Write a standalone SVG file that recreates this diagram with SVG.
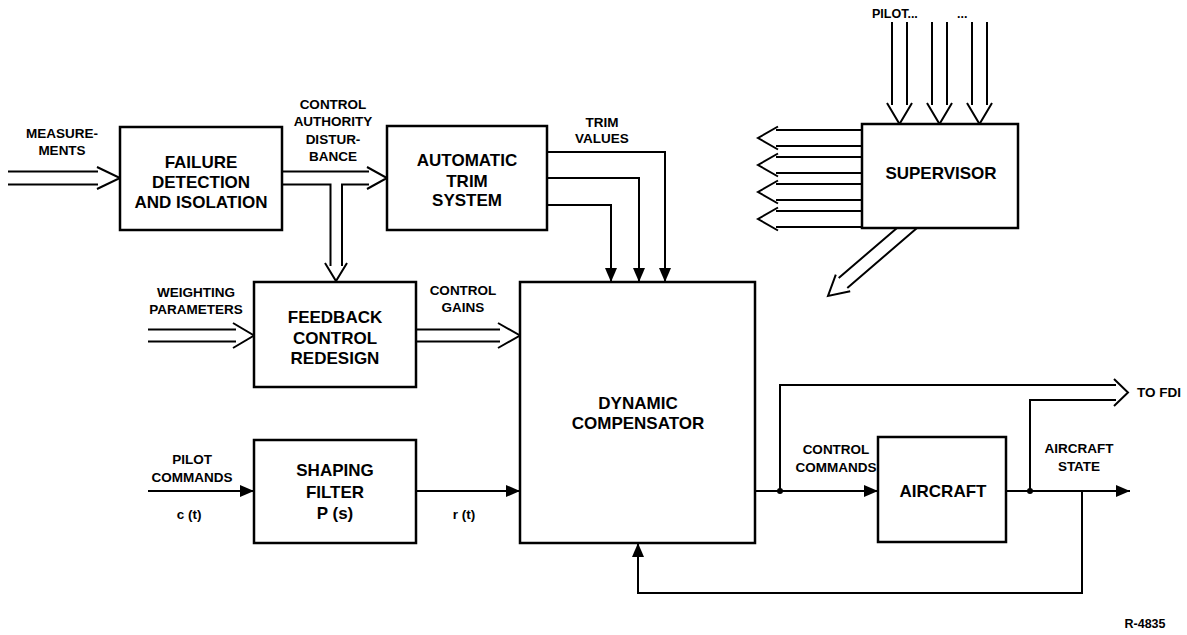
<svg xmlns="http://www.w3.org/2000/svg" width="1187" height="635" viewBox="0 0 1187 635">
<style>
.bx{fill:#fff;stroke:#000;stroke-width:2.5}
.ln{fill:none;stroke:#000;stroke-width:2}
.t{font-family:"Liberation Sans",Arial,sans-serif;font-weight:bold;font-size:17px;text-anchor:middle;fill:#000}
.s{font-family:"Liberation Sans",Arial,sans-serif;font-weight:bold;font-size:13.5px;text-anchor:middle;fill:#000}
</style>
<defs>
<marker id="ah" viewBox="0 0 14 12" markerWidth="14" markerHeight="12" markerUnits="userSpaceOnUse" refX="14" refY="6" orient="auto">
<path d="M0,0 L14,6 L0,12 z" fill="#000"/>
</marker>
</defs>
<rect width="1187" height="635" fill="#fff"/>

<g id="connectors">
<!-- measurements -->
<path class="ln" d="M8,171.5 H98 M8,184.5 H98 M97,167 L120,178 L97,189"/>
<!-- FDI to trim and feedback -->
<path class="ln" d="M282,171.5 H369 M282,184.5 H330.5 V266 M342,266 V184.5 H369 M367,167 L387,178 L367,189 M325,263 L336,281 L347,263"/>
<!-- weighting parameters -->
<path class="ln" d="M148,329.5 H236 M148,341.5 H236 M233,323 L254,335.5 L233,348"/>
<!-- control gains -->
<path class="ln" d="M416,329.5 H500 M416,341.5 H500 M498,323 L520,335.5 L498,348"/>
<!-- trim values -->
<path class="ln" d="M547,152 H665 V282" marker-end="url(#ah)"/>
<path class="ln" d="M547,178 H639 V282" marker-end="url(#ah)"/>
<path class="ln" d="M547,205 H611 V282" marker-end="url(#ah)"/>
<!-- pilot commands / r(t) -->
<path class="ln" d="M148,491 H254" marker-end="url(#ah)"/>
<path class="ln" d="M416,491 H520" marker-end="url(#ah)"/>
<!-- control commands -->
<path class="ln" d="M755,491 H878" marker-end="url(#ah)"/>
<!-- aircraft state -->
<path class="ln" d="M1006,491 H1130" marker-end="url(#ah)"/>
<!-- feedback -->
<path class="ln" d="M1082,491 V593 H638 V543" marker-end="url(#ah)"/>
<!-- to FDI -->
<path class="ln" d="M780,491 V385 H1116 M1030,491 V400 H1116 M1114,379 L1128,392.5 L1114,406"/>
<circle cx="780" cy="491" r="3" fill="#000"/>
<circle cx="1030" cy="491" r="3" fill="#000"/>
<!-- supervisor inputs -->
<path class="ln" d="M892,22 V105 M907,22 V105 M887,103 L899.5,124 L912,103"/>
<path class="ln" d="M932,22 V105 M947,22 V105 M927,103 L939.5,124 L952,103"/>
<path class="ln" d="M972,22 V105 M987,22 V105 M967,103 L979.5,124 L992,103"/>
<!-- supervisor outputs -->
<path class="ln" d="M862,130 H776 M862,146 H776 M778,126.5 L758,138 L778,149.5"/>
<path class="ln" d="M862,157 H776 M862,173 H776 M778,153.5 L758,165 L778,176.5"/>
<path class="ln" d="M862,184 H776 M862,200 H776 M778,180.5 L758,192 L778,203.5"/>
<path class="ln" d="M862,211 H776 M862,227 H776 M778,207.5 L758,219 L778,230.5"/>
<path class="ln" d="M897,228 L838.7,278 M917,228 L847.3,288 M835.8,274.7 L828,296 L850.2,291.3"/>
</g>

<g id="fdi">
<rect class="bx" x="120" y="127" width="162" height="103"/>
<text class="t" x="201" y="168">FAILURE</text>
<text class="t" x="201" y="188">DETECTION</text>
<text class="t" x="201" y="208">AND ISOLATION</text>
</g>
<g id="trim">
<rect class="bx" x="387" y="126" width="160" height="104"/>
<text class="t" x="467" y="166">AUTOMATIC</text>
<text class="t" x="467" y="187">TRIM</text>
<text class="t" x="467" y="206">SYSTEM</text>
</g>
<g id="supervisor">
<rect class="bx" x="862" y="124" width="156" height="104"/>
<text class="t" x="941" y="179">SUPERVISOR</text>
</g>
<g id="feedback">
<rect class="bx" x="254" y="282" width="162" height="105"/>
<text class="t" x="335" y="323">FEEDBACK</text>
<text class="t" x="335" y="344">CONTROL</text>
<text class="t" x="335" y="364">REDESIGN</text>
</g>
<g id="shaping">
<rect class="bx" x="254" y="440" width="162" height="103"/>
<text class="t" x="335" y="476">SHAPING</text>
<text class="t" x="335" y="498">FILTER</text>
<text class="t" x="335" y="519">P (s)</text>
</g>
<g id="dyncomp">
<rect class="bx" x="520" y="282" width="235" height="261"/>
<text class="t" x="638" y="409">DYNAMIC</text>
<text class="t" x="638" y="429">COMPENSATOR</text>
</g>
<g id="aircraft">
<rect class="bx" x="878" y="437" width="128" height="105"/>
<text class="t" x="943" y="497">AIRCRAFT</text>
</g>

<g id="labels">
<text class="s" x="62" y="138">MEASURE-</text>
<text class="s" x="62" y="155">MENTS</text>
<text class="s" x="333" y="109">CONTROL</text>
<text class="s" x="333" y="126">AUTHORITY</text>
<text class="s" x="333" y="144">DISTUR-</text>
<text class="s" x="333" y="161">BANCE</text>
<text class="s" x="602" y="127">TRIM</text>
<text class="s" x="602" y="143">VALUES</text>
<text class="s" x="196" y="297">WEIGHTING</text>
<text class="s" x="196" y="314">PARAMETERS</text>
<text class="s" x="463" y="295">CONTROL</text>
<text class="s" x="463" y="312">GAINS</text>
<text class="s" x="192" y="464">PILOT</text>
<text class="s" x="192" y="482">COMMANDS</text>
<text class="s" x="189" y="519">c (t)</text>
<text class="s" x="464" y="519">r (t)</text>
<text class="s" x="836" y="454">CONTROL</text>
<text class="s" x="836" y="472">COMMANDS</text>
<text class="s" x="1079" y="453">AIRCRAFT</text>
<text class="s" x="1079" y="471">STATE</text>
<text class="s" x="1137" y="397" style="text-anchor:start">TO FDI</text>
<text class="s" x="872" y="18" style="text-anchor:start;font-size:12.5px">PILOT...</text>
<text class="s" x="957" y="18" style="text-anchor:start;font-size:12.5px">...</text>
<text class="s" x="1145" y="628" style="font-size:12.5px">R-4835</text>
</g>
</svg>
